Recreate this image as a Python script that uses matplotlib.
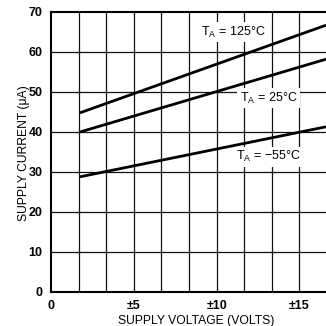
import matplotlib
matplotlib.use("Agg")
import matplotlib.pyplot as plt
import numpy as np

plt.rcParams['font.family'] = ['Liberation Sans', 'DejaVu Sans']
plt.rcParams['mathtext.fontset'] = 'custom'
plt.rcParams['mathtext.rm'] = 'Liberation Sans'
plt.rcParams['mathtext.it'] = 'Liberation Sans:italic'

# Supply current vs supply voltage at three ambient temperatures
voltage = [1.75, 16.6]
current_125 = [44.8, 66.7]
current_25 = [40.0, 58.2]
current_m55 = [28.8, 41.3]

xtick_pos = [0, 5, 10, 15]
xtick_labels = ['0', '±5', '±10', '±15']
ytick_pos = [0, 10, 20, 30, 40, 50, 60, 70]

W = H = 326
fig = plt.figure(figsize=(W / 100, H / 100), dpi=100)
ax = fig.add_axes([51 / W, (H - 292) / H, (W - 51) / W, 280 / H])

ax.set_xlim(0, 16.6)
ax.set_ylim(0, 70)

# grid
for gx in np.arange(5 / 3, 16.6, 5 / 3):
    ax.axvline(gx, color='#111111', lw=0.9, zorder=1)
for gy in ytick_pos[1:-1]:
    ax.axhline(gy, color='#111111', lw=0.9, zorder=1)

for y in (current_125, current_25, current_m55):
    ax.plot(voltage, y, color='black', lw=2.0, solid_capstyle='butt', zorder=3)

bbox = dict(facecolor='white', edgecolor='none', pad=2)
ax.text(11.0, 65.0, r'T$_{\mathrm{A}}$ = 125°C', fontsize=9, ha='center', va='center',
        bbox=bbox, zorder=4)
ax.text(13.15, 48.5, r'T$_{\mathrm{A}}$ = 25°C', fontsize=9, ha='center', va='center',
        bbox=bbox, zorder=4)
ax.text(13.15, 33.8, r'T$_{\mathrm{A}}$ = −55°C', fontsize=9, ha='center', va='center',
        bbox=bbox, zorder=4)

ax.set_xticks(xtick_pos)
ax.set_xticklabels(xtick_labels)
ax.set_yticks(ytick_pos)
ax.tick_params(length=0, labelsize=9, pad=6)
for lab in ax.get_xticklabels() + ax.get_yticklabels():
    lab.set_fontweight('bold')

for side in ('left', 'bottom', 'top'):
    ax.spines[side].set_linewidth(1.5)
ax.spines['right'].set_visible(False)

fig.text(196 / W, 1 - 321 / H, 'SUPPLY VOLTAGE (VOLTS)', fontsize=8.7,
         ha='center', va='center')
fig.text(24 / W, 1 - 153 / H, 'SUPPLY CURRENT (μA)', fontsize=8.7,
         ha='center', va='center', rotation=90)

fig.savefig('out.png', dpi=100)
